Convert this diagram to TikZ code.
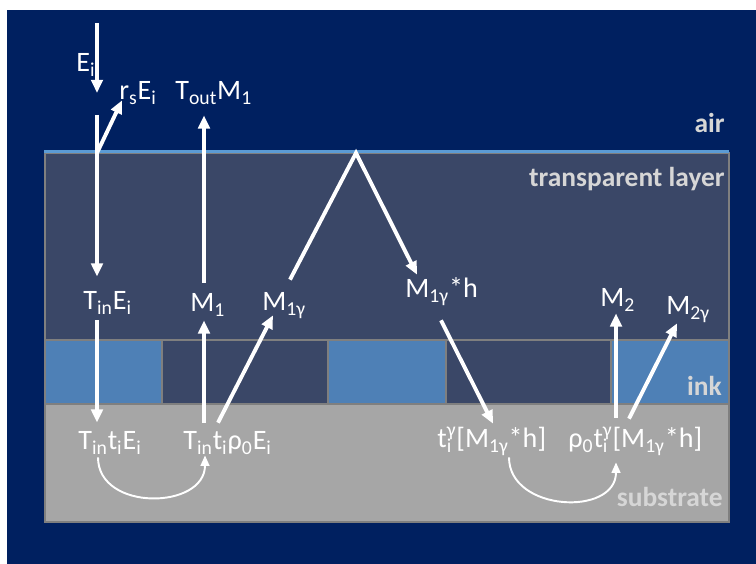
\documentclass[tikz,border=0pt]{standalone}
\usepackage{fontspec}
\setmainfont{Carlito}
\usetikzlibrary{arrows.meta, calc}

\definecolor{navy}{HTML}{002060}
\definecolor{clearlayer}{HTML}{3A4767}
\definecolor{inkblue}{HTML}{4E80B6}
\definecolor{surface}{HTML}{5B9BD5}
\definecolor{substrate}{HTML}{A6A6A6}
\definecolor{edge}{HTML}{7F7F7F}
\definecolor{tagtext}{HTML}{D6D6D6}

\begin{document}
\begin{tikzpicture}[x=0.2mm, y=0.2mm,
  lbl/.style={anchor=base west, inner sep=0pt, text=white, text height=3.6mm,
    text depth=1mm, font=\fontsize{16}{19}\selectfont},
  layername/.style={anchor=base east, inner sep=0pt, text=tagtext,
    font=\fontsize{15.6}{18}\selectfont\bfseries},
  ray/.style={white, line width=2.2pt, -{Triangle[length=7.5pt, width=6.5pt]}},
  loopback/.style={white, line width=1.1pt, -{Triangle[length=6pt, width=5pt]}}]
  \useasboundingbox (0,0) rectangle (756,564);
  \fill[white] (0,0) rectangle (756,564);
  \fill[navy] (7,0) rectangle (756,554);

  % layers
  \filldraw[fill=clearlayer, draw=edge, line width=0.6pt] (45,224) rectangle (729,411);
  \filldraw[fill=substrate, draw=edge, line width=0.6pt] (45,42) rectangle (729,160);
  \foreach \a/\b/\c in {45/162/inkblue, 162/328/clearlayer, 328/446/inkblue, 446/611/clearlayer, 611/729/inkblue}
    \filldraw[fill=\c, draw=edge, line width=0.6pt] (\a,160) rectangle (\b,224);
  \draw[surface, line width=1.7pt] (44,412) -- (729,412);

  \node[layername] (air)   at (725,431) {air};
  \node[layername] (clear) at (725,377) {transparent layer};
  \node[layername] (ink)   at (722,168) {ink};
  \node[layername] (sub)   at (723,57)  {substrate};

  % labels
  \node[lbl] (Ei)         at (76,492)  {E\textsubscript{i}};
  \node[lbl] (rsEi)       at (119,464) {r\textsubscript{s}E\textsubscript{i}};
  \node[lbl] (ToutM1)     at (175,464) {T\textsubscript{out}M\textsubscript{1}};
  \node[lbl] (TinEi)      at (83,254)  {T\textsubscript{in}E\textsubscript{i}};
  \node[lbl] (M1)         at (190,252) {M\textsubscript{1}};
  \node[lbl] (M1g)        at (262,253) {M\textsubscript{1γ}};
  \node[lbl] (M1gh)       at (405,266) {M\textsubscript{1γ}*h};
  \node[lbl] (M2)         at (600,257) {M\textsubscript{2}};
  \node[lbl] (M2g)        at (666,249) {M\textsubscript{2γ}};
  \node[lbl] (TintiEi)    at (78,114)  {T\textsubscript{in}t\textsubscript{i}E\textsubscript{i}};
  \node[lbl] (TintiRhoEi) at (183,114) {T\textsubscript{in}t\textsubscript{i}ρ\textsubscript{0}E\textsubscript{i}};
  \node[lbl] (tiM)        at (437,116) {t\rlap{\textsubscript{i}}\textsuperscript{γ}[M\textsubscript{1γ}*h]};
  \node[lbl] (rhotiM)     at (568,116) {ρ\textsubscript{0}t\rlap{\textsubscript{i}}\textsuperscript{γ}[M\textsubscript{1γ}*h]};

  \coordinate (ein)    at (97,541);
  \coordinate (einEnd) at (97,471);
  \coordinate (ein2)   at (97,449);
  \coordinate (hit)    at (97,411);
  \coordinate (apex)   at (356,411);

  % rays
  \draw[ray] (ein) -- (einEnd);
  \draw[ray] (ein2) -- ($(TinEi.north west)+(14,15)$);
  \draw[ray] (hit) -- ($(rsEi.south west)+(3,5)$);
  \draw[ray] ($(M1.north west)+(14,11)$) -- ($(ToutM1.south west)+(29,-10)$);
  \draw[ray] ($(TinEi.south west)+(14,-5)$) -- ($(TintiEi.north west)+(19,9)$);
  \draw[ray] ($(TintiRhoEi.north west)+(21,9)$) -- ($(M1.south west)+(14,-3)$);
  \draw[ray] ($(TintiRhoEi.north west)+(35,9)$) -- ($(M1g.south west)+(11,1)$);
  \draw[ray] ($(M1g.north west)+(28,13)$) -- (apex) -- ($(M1gh.north west)+(12,5)$);
  \draw[ray] ($(M1gh.south west)+(36,-17)$) -- ($(tiM.north west)+(56,6)$);
  \draw[ray] ($(rhotiM.north west)+(48,12)$) -- ($(M2.south west)+(16,-1)$);
  \draw[ray] ($(rhotiM.north west)+(61,11)$) -- ($(M2g.south west)+(11,-3)$);

  % scattering inside the substrate
  \draw[loopback] ($(TintiEi.south west)+(20,-2)$) to[out=-90, in=-90, looseness=1.3] ($(TintiRhoEi.south west)+(22,0)$);
  \draw[loopback] ($(tiM.south west)+(72,-4)$) to[out=-90, in=-90, looseness=1.3] ($(rhotiM.south west)+(48,-9)$);
\end{tikzpicture}
\end{document}
